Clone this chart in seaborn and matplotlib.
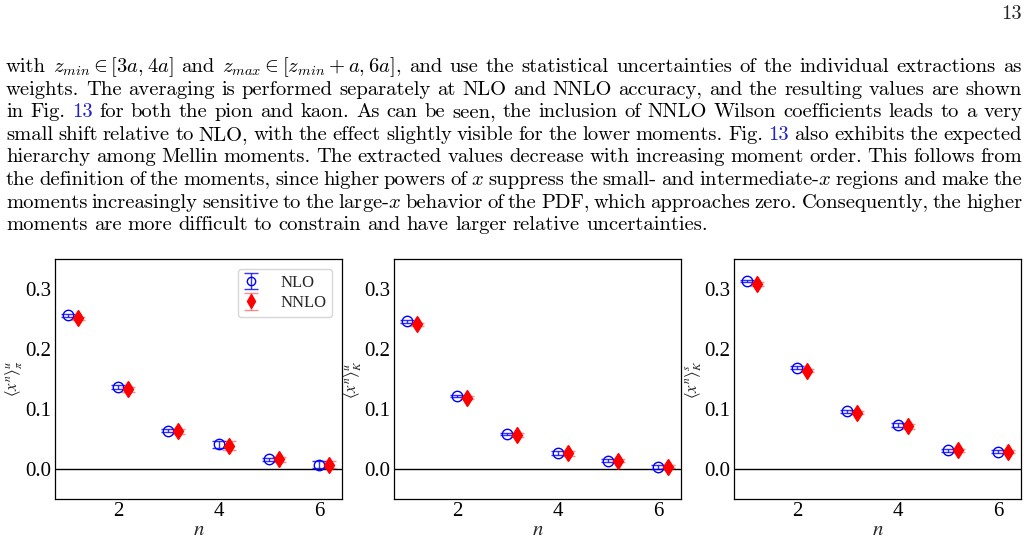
import numpy as np
import matplotlib
matplotlib.use("Agg")
import matplotlib.pyplot as plt
import seaborn as sns

# Mellin moments n = 1..6, NLO vs NNLO
n = [1, 2, 3, 4, 5, 6]
shift = 0.2

pion_u_nlo = [0.256, 0.137, 0.064, 0.041, 0.016, 0.007]
pion_u_nlo_err = [0.002, 0.003, 0.003, 0.006, 0.003, 0.006]
pion_u_nnlo = [0.251, 0.133, 0.063, 0.039, 0.016, 0.007]
pion_u_nnlo_err = [0.003, 0.004, 0.004, 0.007, 0.004, 0.006]

kaon_u_nlo = [0.246, 0.122, 0.058, 0.027, 0.014, 0.003]
kaon_u_nlo_err = [0.002, 0.002, 0.002, 0.003, 0.002, 0.003]
kaon_u_nnlo = [0.241, 0.119, 0.057, 0.026, 0.014, 0.004]
kaon_u_nnlo_err = [0.003, 0.003, 0.003, 0.004, 0.003, 0.003]

kaon_s_nlo = [0.313, 0.169, 0.096, 0.073, 0.031, 0.029]
kaon_s_nlo_err = [0.002, 0.002, 0.002, 0.003, 0.002, 0.002]
kaon_s_nnlo = [0.308, 0.164, 0.094, 0.071, 0.031, 0.029]
kaon_s_nnlo_err = [0.003, 0.003, 0.003, 0.004, 0.002, 0.003]

ylabels = [r"$\langle x^n\rangle^u_\pi$", r"$\langle x^n\rangle^u_K$", r"$\langle x^n\rangle^s_K$"]
yticks = [0.0, 0.1, 0.2, 0.3]
xticks = [2, 4, 6]

paragraph = [
    r"with $z_{min} \in [3a, 4a]$ and $z_{max} \in [z_{min} + a, 6a]$, and use the statistical uncertainties of the individual extractions as",
    "weights. The averaging is performed separately at NLO and NNLO accuracy, and the resulting values are shown",
    "in Fig. 13 for both the pion and kaon. As can be seen, the inclusion of NNLO Wilson coefficients leads to a very",
    "small shift relative to NLO, with the effect slightly visible for the lower moments. Fig. 13 also exhibits the expected",
    "hierarchy among Mellin moments. The extracted values decrease with increasing moment order. This follows from",
    "the definition of the moments, since higher powers of $x$ suppress the small- and intermediate-$x$ regions and make the",
    "moments increasingly sensitive to the large-$x$ behavior of the PDF, which approaches zero. Consequently, the higher",
    "moments are more difficult to constrain and have larger relative uncertainties.",
]

sns.set_style("white")
serif = ["Liberation Serif", "DejaVu Serif"]
plt.rcParams["font.family"] = serif
plt.rcParams["mathtext.fontset"] = "stix"
plt.rcParams["axes.edgecolor"] = "black"
plt.rcParams["xtick.color"] = "black"
plt.rcParams["ytick.color"] = "black"

W, H = 1028, 543
fig = plt.figure(figsize=(W / 100, H / 100), dpi=100)

panels = [
    (pion_u_nlo, pion_u_nlo_err, pion_u_nnlo, pion_u_nnlo_err),
    (kaon_u_nlo, kaon_u_nlo_err, kaon_u_nnlo, kaon_u_nnlo_err),
    (kaon_s_nlo, kaon_s_nlo_err, kaon_s_nnlo, kaon_s_nnlo_err),
]
lefts = [55, 394, 734]

for i, (nlo, nlo_e, nnlo, nnlo_e) in enumerate(panels):
    ax = fig.add_axes([lefts[i] / W, (H - 499) / H, 287 / W, 240 / H])
    ax.axhline(0, color="black", lw=1)
    c1 = ax.errorbar(n, nlo, yerr=nlo_e, fmt="o", ms=7.5, mfc="none", mec="blue",
                     mew=1.0, color="blue", capsize=5, elinewidth=1, label="NLO")
    x2 = [k + shift for k in n]
    c2 = ax.errorbar(x2, nnlo, yerr=nnlo_e, fmt="d", ms=8.5, color="red",
                     ecolor="red", capsize=5, elinewidth=1, label="NNLO")
    for art in list(c1[1]) + list(c1[2]):
        art.set_alpha(0.8)
    for art in list(c2[1]) + list(c2[2]):
        art.set_alpha(0.45)
    ax.set_ylim(-0.05, 0.35)
    ax.set_xticks(xticks)
    ax.set_yticks(yticks)
    ax.set_yticklabels([f"{v:.1f}" for v in yticks], family=serif)
    ax.set_xticklabels([str(v) for v in xticks], family=serif)
    ax.tick_params(labelsize=15, pad=2.5, length=0)
    ax.set_xlabel("$n$", fontsize=15, labelpad=0)
    ax.set_ylabel(ylabels[i], fontsize=12, labelpad=0)
    for sp in ax.spines.values():
        sp.set_linewidth(0.9)
    if i == 0:
        ax.legend(loc="upper right", prop={"family": serif, "size": 12},
                  handlelength=0.9, handletextpad=1.3, borderpad=0.35,
                  labelspacing=0.25, markerscale=0.8, borderaxespad=0.6)

# paragraph text, justified word by word
def split_tokens(line):
    out, cur, inmath = [], "", False
    for ch in line:
        if ch == "$":
            inmath = not inmath
        if ch == " " and not inmath:
            if cur:
                out.append(cur)
            cur = ""
        else:
            cur += ch
    if cur:
        out.append(cur)
    return out

fig.canvas.draw()
renderer = fig.canvas.get_renderer()

text_font = ["cmr10", "DejaVu Serif"]
fs = 14.8
x_left, x_right = 6, 1022
y0, dy = 72, 22.6

for li, line in enumerate(paragraph):
    toks = split_tokens(line)
    arts = []
    for j, tok in enumerate(toks):
        col = "#1f1fd0" if (tok == "13" and j > 0 and toks[j - 1] == "Fig.") else "black"
        t = fig.text(0, 1 - (y0 + dy * li) / H, tok, fontsize=fs, family=text_font,
                     math_fontfamily="cm", color=col, va="baseline", ha="left")
        arts.append(t)
    widths = [a.get_window_extent(renderer).width for a in arts]
    if li < len(paragraph) - 1:
        gap = (x_right - x_left - sum(widths)) / (len(arts) - 1)
    else:
        gap = fs * 100 / 72 * 0.3
    x = x_left
    for a, w in zip(arts, widths):
        a.set_x(x / W)
        x += w + gap

fig.text(1022 / W, 1 - 19 / H, "13", fontsize=fs, family=text_font, ha="right", va="baseline")

fig.savefig("out.png", dpi=100)
